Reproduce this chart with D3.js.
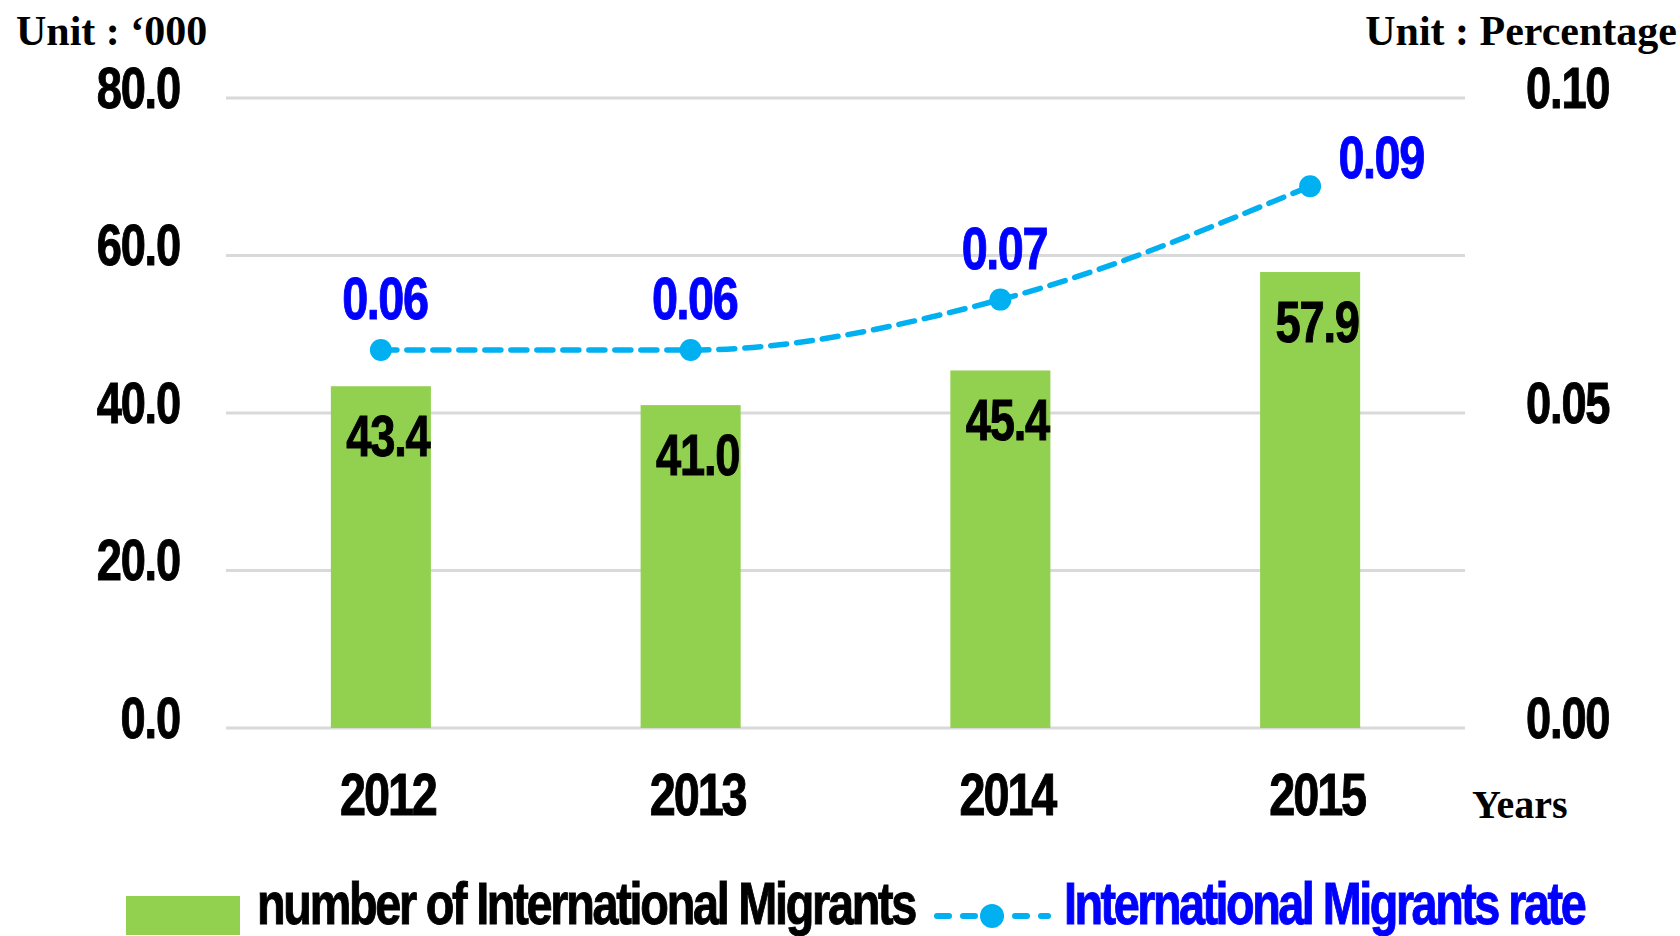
<!DOCTYPE html>
<html>
<head>
<meta charset="utf-8">
<script src="https://cdn.jsdelivr.net/npm/d3@7"></script>
<style>
  body { margin: 0; background: #fff; }
  .cond { font-family: "Liberation Sans", Arial, sans-serif; font-weight: bold; stroke: currentColor; stroke-width: 1px; }
  .serif { font-family: "Liberation Serif", "Times New Roman", serif; font-weight: bold; }
</style>
</head>
<body>
<svg id="chart"></svg>
<script>
const years = ["2012", "2013", "2014", "2015"];
const migrants = [43.4, 41.0, 45.4, 57.9];
const rate = [0.060, 0.060, 0.068, 0.086];
const leftTicks = [0, 20, 40, 60, 80];
const rightTicks = [0, 0.05, 0.10];

const width = 1680, height = 936;
const plotLeft = 226, plotRight = 1465, plotTop = 98, plotBottom = 728;

const barColor = "#92D050";
const lineColor = "#00B0F0";

const svg = d3.select("#chart")
    .attr("width", width)
    .attr("height", height);

// scales
const x = d3.scaleBand()
    .domain(years)
    .range([plotLeft, plotRight])
    .paddingInner(0.677)
    .paddingOuter(0.3385);

const y = d3.scaleLinear().domain([0, 80]).range([plotBottom, plotTop]);
const y2 = d3.scaleLinear().domain([0, 0.10]).range([plotBottom, plotTop]);

// gridlines
svg.append("g")
    .selectAll("line")
    .data(leftTicks)
    .enter()
    .append("line")
    .attr("x1", plotLeft)
    .attr("x2", plotRight)
    .attr("y1", d => y(d))
    .attr("y2", d => y(d))
    .attr("stroke", "#d9d9d9")
    .attr("stroke-width", 3);

// left axis
const yAxis = d3.axisLeft(y).tickValues(leftTicks).tickFormat(d3.format(".1f")).tickSize(0);
const gy = svg.append("g").attr("transform", `translate(${plotLeft},0)`).call(yAxis);
gy.select(".domain").remove();
gy.selectAll("text")
    .attr("class", "cond")
    .attr("x", null).attr("dy", null)
    .attr("transform", "translate(-46,9) scale(0.78,1)")
    .attr("text-anchor", "end")
    .attr("fill", "#000")
    .style("color", "#000")
    .style("font-size", "58px")
    .style("letter-spacing", "-1.5px");

// right axis
const y2Axis = d3.axisRight(y2).tickValues(rightTicks).tickFormat(d3.format(".2f")).tickSize(0);
const gy2 = svg.append("g").attr("transform", `translate(${plotRight},0)`).call(y2Axis);
gy2.select(".domain").remove();
gy2.selectAll("text")
    .attr("class", "cond")
    .attr("x", null).attr("dy", null)
    .attr("transform", "translate(61,9) scale(0.78,1)")
    .attr("text-anchor", "start")
    .attr("fill", "#000")
    .style("color", "#000")
    .style("font-size", "58px")
    .style("letter-spacing", "-1.5px");

// x axis
const xAxis = d3.axisBottom(x).tickSize(0);
const gx = svg.append("g").attr("transform", `translate(0,${plotBottom})`).call(xAxis);
gx.select(".domain").remove();
gx.selectAll("text")
    .attr("class", "cond")
    .attr("y", null).attr("dy", null)
    .attr("transform", "translate(7,87) scale(0.78,1)")
    .attr("text-anchor", "middle")
    .attr("fill", "#000")
    .style("color", "#000")
    .style("font-size", "60px")
    .style("letter-spacing", "-2.6px");

// bars
const rows = years.map((k, i) => ({ key: k, value: migrants[i], rate: rate[i] }));

svg.selectAll(".bar")
    .data(rows)
    .enter()
    .append("rect")
    .attr("class", "bar")
    .attr("x", d => x(d.key))
    .attr("width", x.bandwidth())
    .attr("y", d => y(d.value))
    .attr("height", d => plotBottom - y(d.value))
    .attr("fill", barColor);

// bar labels
svg.selectAll(".barLabel")
    .data(rows)
    .enter()
    .append("text")
    .attr("class", "cond")
    .attr("transform", d => `translate(${x(d.key) + x.bandwidth() / 2 + 7},${y(d.value) + 70}) scale(0.78,1)`)
    .attr("text-anchor", "middle")
    .style("color", "#000")
    .style("font-size", "58px")
    .style("letter-spacing", "-1.5px")
    .text(d => d3.format(".1f")(d.value));

// rate line
const cx = d => x(d.key) + x.bandwidth() / 2;
const line = d3.line()
    .x(cx)
    .y(d => y2(d.rate))
    .curve(d3.curveMonotoneX);

svg.append("path")
    .datum(rows)
    .attr("d", line)
    .attr("fill", "none")
    .attr("stroke", lineColor)
    .attr("stroke-width", 5.5)
    .attr("stroke-dasharray", "16,10")
    .attr("stroke-linecap", "round");

svg.selectAll(".dot")
    .data(rows)
    .enter()
    .append("circle")
    .attr("class", "dot")
    .attr("cx", cx)
    .attr("cy", d => y2(d.rate))
    .attr("r", 11)
    .attr("fill", lineColor);

// rate labels (last one sits to the right of its point)
svg.selectAll(".rateLabel")
    .data(rows)
    .enter()
    .append("text")
    .attr("class", "cond")
    .attr("transform", (d, i) => {
        const last = i === rows.length - 1;
        const tx = cx(d) + (last ? 71 : 4);
        const ty = y2(d.rate) + (last ? -8 : -31);
        return `translate(${tx},${ty}) scale(0.78,1)`;
    })
    .attr("text-anchor", "middle")
    .attr("fill", "#0000FF")
    .style("color", "#0000FF")
    .style("font-size", "60px")
    .style("letter-spacing", "-1.8px")
    .text(d => d3.format(".2f")(d.rate));

// unit titles
svg.append("text")
    .attr("class", "serif")
    .attr("x", 16).attr("y", 45)
    .style("font-size", "42px")
    .text("Unit : \u2018000");

svg.append("text")
    .attr("class", "serif")
    .attr("x", 1677).attr("y", 45)
    .attr("text-anchor", "end")
    .style("font-size", "42px")
    .text("Unit : Percentage");

svg.append("text")
    .attr("class", "serif")
    .attr("x", 1472).attr("y", 818)
    .style("font-size", "40px")
    .text("Years");

// legend
const legend = svg.append("g");
legend.append("rect")
    .attr("x", 126).attr("y", 896)
    .attr("width", 114).attr("height", 39)
    .attr("fill", barColor);

legend.append("text")
    .attr("class", "cond")
    .attr("transform", "translate(257,924) scale(0.78,1)")
    .style("color", "#000")
    .style("font-size", "60px")
    .style("letter-spacing", "-2.9px")
    .text("number of International Migrants");

legend.append("line")
    .attr("x1", 937).attr("x2", 1048)
    .attr("y1", 916).attr("y2", 916)
    .attr("stroke", lineColor)
    .attr("stroke-width", 6)
    .attr("stroke-dasharray", "12,14")
    .attr("stroke-linecap", "round");

legend.append("circle")
    .attr("cx", 992).attr("cy", 916)
    .attr("r", 12)
    .attr("fill", lineColor);

legend.append("text")
    .attr("class", "cond")
    .attr("transform", "translate(1064,924) scale(0.78,1)")
    .attr("fill", "#0000FF")
    .style("color", "#0000FF")
    .style("font-size", "60px")
    .style("letter-spacing", "-3.2px")
    .text("International Migrants rate");
</script>
</body>
</html>
